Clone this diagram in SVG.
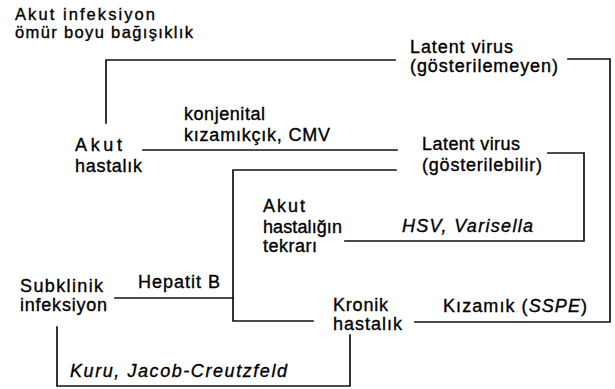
<svg xmlns="http://www.w3.org/2000/svg" width="615" height="389" viewBox="0 0 615 389">
<style>
text{font-family:"Liberation Sans",Arial,sans-serif;font-size:18px;fill:#000;stroke:#000;stroke-width:0.35;}
.s{font-size:16.5px;}
.i{font-style:italic;}
.ln{fill:none;stroke:#111;stroke-width:1.7;stroke-linecap:square;}
</style>
<rect width="615" height="389" fill="#fff"/>
<g id="connectors">
<path class="ln" d="M106,123 V60 H395"/>
<path class="ln" d="M568,59 H610 V322 H415"/>
<path class="ln" d="M143,150 H397"/>
<path class="ln" d="M313,321 H233 V170 H396"/>
<path class="ln" d="M548,153 H584 V241 H345"/>
<path class="ln" d="M115,298 H233"/>
<path class="ln" d="M57,327 V386 H350 V335"/>
<text x="184" y="120" textLength="81" lengthAdjust="spacing">konjenital</text>
<text x="184" y="141" textLength="146" lengthAdjust="spacing">kızamıkçık, CMV</text>
<text class="i" x="402" y="232" textLength="131" lengthAdjust="spacing">HSV, Varisella</text>
<text x="138" y="288" textLength="82" lengthAdjust="spacing">Hepatit B</text>
<text x="443" y="312" textLength="144" lengthAdjust="spacing">Kızamık (<tspan class="i">SSPE</tspan>)</text>
<text class="i" x="70" y="377" textLength="217" lengthAdjust="spacing">Kuru, Jacob-Creutzfeld</text>
</g>
<g id="n-akut-infeksiyon">
<text class="s" x="15" y="20" textLength="140" lengthAdjust="spacing">Akut infeksiyon</text>
<text class="s" x="15" y="38" textLength="178" lengthAdjust="spacing">ömür boyu bağışıklık</text>
</g>
<g id="n-latent-gosterilemeyen">
<text x="410" y="53" textLength="103" lengthAdjust="spacing">Latent virus</text>
<text x="410" y="72" textLength="148" lengthAdjust="spacing">(gösterilemeyen)</text>
</g>
<g id="n-akut-hastalik">
<text x="75" y="151" textLength="47" lengthAdjust="spacing">Akut</text>
<text x="75" y="172" textLength="67" lengthAdjust="spacing">hastalık</text>
</g>
<g id="n-latent-gosterilebilir">
<text x="422" y="150" textLength="98" lengthAdjust="spacing">Latent virus</text>
<text x="422" y="171" textLength="120" lengthAdjust="spacing">(gösterilebilir)</text>
</g>
<g id="n-akut-tekrar">
<text x="263" y="212" textLength="42" lengthAdjust="spacing">Akut</text>
<text x="263" y="233" textLength="79" lengthAdjust="spacing">hastalığın</text>
<text x="263" y="252" textLength="54" lengthAdjust="spacing">tekrarı</text>
</g>
<g id="n-subklinik">
<text x="20" y="292" textLength="83" lengthAdjust="spacing">Subklinik</text>
<text x="20" y="311" textLength="87" lengthAdjust="spacing">infeksiyon</text>
</g>
<g id="n-kronik">
<text x="333" y="311" textLength="55" lengthAdjust="spacing">Kronik</text>
<text x="333" y="330" textLength="69" lengthAdjust="spacing">hastalık</text>
</g>
</svg>
